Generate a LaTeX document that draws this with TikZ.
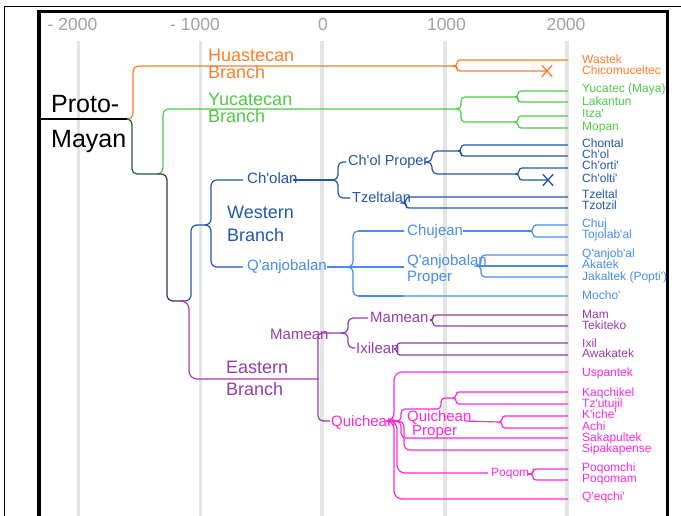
\documentclass[tikz,border=0pt]{standalone}
\usepackage{fontspec}
\usetikzlibrary{shapes.misc}
\newfontfamily\lab{Liberation Sans}
\definecolor{cOr}{RGB}{255,125,40}
\definecolor{cGr}{RGB}{80,200,70}
\definecolor{cDg}{RGB}{30,95,50}
\definecolor{cDp}{RGB}{70,40,110}
\definecolor{cWb}{RGB}{35,85,170}
\definecolor{cLb}{RGB}{70,140,240}
\definecolor{cPu}{RGB}{150,60,170}
\definecolor{cEp}{RGB}{175,50,180}
\definecolor{cMg}{RGB}{255,40,215}
\definecolor{cAx}{RGB}{160,160,160}
\definecolor{cGrid}{RGB}{228,228,228}
\begin{document}
\begin{tikzpicture}[x=1pt,y=-1pt,
  lnk/.style={line width=1.2pt, rounded corners=#1}, lnk/.default=5,
  elbow/.style={to path={-- ++(#1,0) |- (\tikztotarget)}}, elbow/.default=3,
  leafl/.style={anchor=base west, inner sep=0pt, font=\lab\fontsize{12}{12}\selectfont},
  midl/.style={anchor=base west, inner sep=0pt, font=\lab\fontsize{15}{15}\selectfont},
  brl/.style={anchor=base west, inner sep=0pt, align=left, font=\lab\fontsize{18}{#1}\selectfont},
  axl/.style={anchor=base, inner sep=0pt, text=cAx, font=\lab\fontsize{17.5}{17.5}\selectfont},
  gridln/.style={draw=cGrid, line width=3.3pt},
  xmark/.style={cross out, draw, line width=1.3pt, minimum width=9pt, minimum height=10pt, inner sep=0pt},
]
\useasboundingbox (0,0) rectangle (681,516);
% frame
\draw[line width=1pt] (4,516) -- (4,7) -- (681,7);
% grid
\foreach \gx in {78.5,200.5,322,445,567} \draw[gridln] (\gx,41) -- (\gx,516);
\draw[line width=3.2pt] (39,516) -- (39,11.3) -- (667.5,11.3) -- (667.5,516);
% axis
\node[axl] (ax1) at (72.5,31) {- 2000};
\node[axl] (ax2) at (195,31) {- 1000};
\node[axl] (ax3) at (323,31) {0};
\node[axl] (ax4) at (446.5,31) {1000};
\node[axl] (ax5) at (566,31) {2000};

% root
\node[anchor=base west, inner sep=0pt, align=left, font=\lab\fontsize{25}{35}\selectfont] (proto) at (51,148) {Proto-\\Mayan};
\coordinate (L0) at (40,119);
\coordinate (R) at (127,119);
\draw[line width=1.1pt] (L0) -- (R);

% main splits
\coordinate (A) at (157,174);
\coordinate (B) at (183,301);
\coordinate (Hs) at (452,66);
\coordinate (Ys) at (456,109);
\coordinate (W) at (205,225);
\coordinate (E) at (318,379);
\draw[lnk=6,cOr] (R) to[elbow=6] (Hs);
\draw[lnk=5,cDg] (R) to[elbow=5] (A);
\draw[lnk=6,cGr] (A) to[elbow=6] (Ys);
\draw[lnk=6,cDp] (A) to[elbow=10] (B);
\draw[lnk=6,cWb] (B) to[elbow=8] (W);
\draw[lnk=8,cEp] (B) to[elbow=6] (E);

% branch labels
\node[brl=17, text=cOr] (hua) at (208,79) {Huastecan\\Branch};
\node[brl=17, text=cGr] (yuc) at (208,123) {Yucatecan\\Branch};
\node[brl=23, text=cWb] (wes) at (227,242) {Western\\Branch};
\node[brl=22, text=cPu] (eas) at (226,395) {Eastern\\Branch};

% Huastecan
\coordinate (wE) at (568,60);
\node[xmark, cOr] (xch) at (547,71) {};
\draw[lnk=3,cOr] (Hs) to[elbow=5] (wE);
\draw[lnk=3,cOr] (Hs) to[elbow=5] (xch.center);
\node[leafl, text=cOr] (wastek) at (582,64) {Wastek};
\node[leafl, text=cOr] (chico) at (582,75) {Chicomuceltec};

% Yucatecan
\coordinate (Yu) at (515,97);
\coordinate (Yl) at (515,122);
\coordinate (yucE) at (568,91);
\coordinate (lakE) at (568,102);
\coordinate (itzE) at (568,116);
\coordinate (mopE) at (568,128);
\draw[lnk=4,cGr] (Ys) to[elbow=5] (Yu);
\draw[lnk=4,cGr] (Ys) to[elbow=5] (Yl);
\draw[lnk=3,cGr] (Yu) to[elbow=3] (yucE);
\draw[lnk=3,cGr] (Yu) to[elbow=3] (lakE);
\draw[lnk=3,cGr] (Yl) to[elbow=3] (itzE);
\draw[lnk=3,cGr] (Yl) to[elbow=3] (mopE);
\node[leafl, text=cGr] (yucl) at (582,93) {Yucatec (Maya)};
\node[leafl, text=cGr] (lakl) at (582,106) {Lakantun};
\node[leafl, text=cGr] (itzl) at (582,118) {Itza'};
\node[leafl, text=cGr] (mopl) at (582,131) {Mopan};

% Western: Ch'olan
\coordinate (cholIn) at (243,180);
\coordinate (cholOut) at (293,180);
\coordinate (CO) at (335,180);
\coordinate (cpIn) at (346,162);
\coordinate (tzIn) at (350,198);
\coordinate (CP) at (429,162);
\coordinate (CPa) at (458,151);
\coordinate (CPb) at (515,174);
\coordinate (TZ) at (404,203);
\coordinate (chonE) at (568,145);
\coordinate (cholE) at (568,156);
\coordinate (chorE) at (568,168);
\coordinate (tzeE) at (568,197);
\coordinate (tzoE) at (568,208);
\node[xmark, cWb] (xct) at (548,180) {};
\draw[lnk=6,cWb] (W) to[elbow=6] (cholIn);
\node[midl, text=cWb] (cholan) at (247,184) {Ch'olan};
\draw[lnk,cWb] (cholOut) -- (CO);
\draw[lnk=5,cWb] (CO) to[elbow=3] (cpIn);
\draw[lnk=5,cWb] (CO) to[elbow=3] (tzIn);
\node[midl, text=cWb, font=\lab\fontsize{14.5}{14.5}\selectfont] (cholp) at (348,166) {Ch'ol Proper};
\node[midl, text=cWb, font=\lab\fontsize{14.5}{14.5}\selectfont] (tzelt) at (352,203) {Tzeltalan};
\draw[lnk=5,cWb] (CP) to[elbow=3] (CPa);
\draw[lnk=5,cWb] (CP) to[elbow=3] (CPb);
\draw[lnk=3,cWb] (CPa) to[elbow=3] (chonE);
\draw[lnk=3,cWb] (CPa) to[elbow=3] (cholE);
\draw[lnk=3,cWb] (CPb) to[elbow=4] (chorE);
\draw[lnk=3,cWb] (CPb) to[elbow=4] (xct.center);
\draw[lnk=3,cWb] (TZ) to[elbow=2] (tzeE);
\draw[lnk=3,cWb] (TZ) to[elbow=2] (tzoE);
\node[leafl, text=cWb] (chonl) at (582,148) {Chontal};
\node[leafl, text=cWb] (choll) at (582,159) {Ch'ol};
\node[leafl, text=cWb] (chorl) at (582,170) {Ch'orti'};
\node[leafl, text=cWb] (choltl) at (582,183) {Ch'olti'};
\node[leafl, text=cWb] (tzel) at (582,199) {Tzeltal};
\node[leafl, text=cWb] (tzol) at (582,210) {Tzotzil};

% Western: Q'anjobalan
\coordinate (qanIn) at (243,267);
\coordinate (qanOut) at (327,267);
\coordinate (QS) at (350,267);
\coordinate (chjIn) at (404,231);
\coordinate (chjOut) at (463,231);
\coordinate (qpIn) at (404,267);
\coordinate (CH) at (530,231);
\coordinate (QPs) at (478,266);
\coordinate (chujE) at (568,225);
\coordinate (tojE) at (568,237);
\coordinate (qajE) at (568,255);
\coordinate (akaE) at (568,266);
\coordinate (jakE) at (568,277);
\coordinate (mocE) at (568,296);
\draw[lnk=6,cWb] (W) to[elbow=6] (qanIn);
\node[midl, text=cLb] (qanj) at (247,270) {Q'anjobalan};
\draw[lnk,cLb] (qanOut) -- (QS);
\draw[lnk=5,cLb] (QS) to[elbow=3] (chjIn);
\draw[lnk=5,cLb] (QS) to[elbow=3] (mocE);
\draw[cLb, line width=2.4pt] (QS) -- (qpIn);
\draw[cLb, line width=2.4pt] (chjIn) -- ++(-46,0);
\draw[cLb, line width=2.4pt] (qpIn) ++(0,29) -- ++(-46,0);
\node[midl, text=cLb] (chuj) at (407,236) {Chujean};
\node[midl, text=cLb, align=left, font=\lab\fontsize{15}{16}\selectfont] (qanp) at (407,281) {Q'anjobalan\\Proper};
\draw[lnk,cLb] (chjOut) -- (CH);
\draw[lnk=3,cLb] (CH) to[elbow=3] (chujE);
\draw[lnk=3,cLb] (CH) to[elbow=3] (tojE);
\draw[lnk=4,cLb] (QPs) to[elbow=3] (qajE);
\draw[lnk=4,cLb] (QPs) -- (akaE);
\draw[lnk=4,cLb] (QPs) to[elbow=3] (jakE);
\node[leafl, text=cLb] (chujl) at (582,228) {Chuj};
\node[leafl, text=cLb] (tojl) at (582,239) {Tojolab'al};
\node[leafl, text=cLb] (qajl) at (582,258) {Q'anjob'al};
\node[leafl, text=cLb] (akal) at (582,269) {Akatek};
\node[leafl, text=cLb] (jakl) at (582,280) {Jakaltek (Popti')};
\node[leafl, text=cLb] (mocl) at (582,299) {Mocho'};

% Eastern: Mamean
\coordinate (MS) at (345,333);
\coordinate (mmIn) at (368,318);
\coordinate (ixIn) at (355,348);
\coordinate (MM) at (430,320);
\coordinate (IX) at (394,349);
\coordinate (mamE) at (568,315);
\coordinate (tekE) at (568,326);
\coordinate (ixE) at (568,343);
\coordinate (awaE) at (568,355);
\draw[lnk=4,cPu] (E) |- (MS);
\node[midl, text=cPu] (mam1) at (270,339) {Mamean};
\draw[lnk=5,cPu] (MS) to[elbow=3] (mmIn);
\draw[lnk=5,cPu] (MS) to[elbow=3] (ixIn);
\node[midl, text=cPu] (mam2) at (370,323) {Mamean};
\node[midl, text=cPu] (ixi) at (356,353) {Ixilean};
\draw[lnk=3,cPu] (MM) to[elbow=3] (mamE);
\draw[lnk=3,cPu] (MM) to[elbow=3] (tekE);
\draw[lnk=3,cPu] (IX) to[elbow=3] (ixE);
\draw[lnk=3,cPu] (IX) to[elbow=3] (awaE);
\node[leafl, text=cPu] (maml) at (582,318) {Mam};
\node[leafl, text=cPu] (tekl) at (582,329) {Tekiteko};
\node[leafl, text=cPu] (ixl) at (582,347) {Ixil};
\node[leafl, text=cPu] (awal) at (582,357) {Awakatek};

% Eastern: Quichean
\coordinate (qcIn) at (330,421);
\coordinate (QC) at (393,421);
\coordinate (QPR) at (398,421);
\coordinate (KG) at (437,409);
\coordinate (KT) at (453,398);
\coordinate (kaIn) at (465,421);
\coordinate (KA) at (499,422);
\coordinate (poIn) at (488,473);
\coordinate (poOut) at (527,474);
\coordinate (PQ) at (530,474);
\coordinate (uspE) at (568,372);
\coordinate (kaqE) at (568,392);
\coordinate (tzuE) at (568,404);
\coordinate (kicE) at (568,416);
\coordinate (achE) at (568,428);
\coordinate (sakE) at (568,438);
\coordinate (sipE) at (568,450);
\coordinate (pqcE) at (568,469);
\coordinate (pqmE) at (568,480);
\coordinate (qeqE) at (568,499);
\draw[lnk=5,cPu] (E) |- (qcIn);
\node[midl, text=cMg] (quic) at (331,426) {Quichean};
\draw[lnk=8,cMg] (QC) to[elbow=1] (uspE);
\draw[lnk=8,cMg] (QC) to[elbow=1] (qeqE);
\draw[lnk=8,cMg] (QC) to[elbow=4] (poIn);
\draw[lnk,cMg] (QC) -- (QPR);
\draw[lnk=4,cMg] (QPR) to[elbow=3] (KG);
\draw[lnk=4,cMg] (KG) to[elbow=4] (KT);
\draw[lnk,cMg] (kaIn) -- (KA);
\draw[lnk=5,cMg] (QPR) to[elbow=3] (sakE);
\draw[lnk=6,cMg] (QPR) to[elbow=6] (sipE);
\node[midl, text=cMg, align=left, font=\lab\fontsize{15}{13.5}\selectfont] (quicp) at (407,435) {Quichean\\\hspace*{5pt}Proper};
\draw[lnk=3,cMg] (KT) to[elbow=3] (kaqE);
\draw[lnk=3,cMg] (KT) to[elbow=3] (tzuE);
\draw[lnk=3,cMg] (KA) to[elbow=3] (kicE);
\draw[lnk=3,cMg] (KA) to[elbow=3] (achE);
\node[leafl, text=cMg, font=\lab\fontsize{12}{12}\selectfont] (poqom) at (491,476) {Poqom};
\draw[lnk,cMg] (poOut) -- (PQ);
\draw[lnk=3,cMg] (PQ) to[elbow=3] (pqcE);
\draw[lnk=3,cMg] (PQ) to[elbow=3] (pqmE);
\node[leafl, text=cMg] (uspl) at (582,376) {Uspantek};
\node[leafl, text=cMg] (kaql) at (582,396) {Kaqchikel};
\node[leafl, text=cMg] (tzul) at (582,407) {Tz'utujil};
\node[leafl, text=cMg] (kicl) at (582,418) {K'iche'};
\node[leafl, text=cMg] (achl) at (582,430) {Achi};
\node[leafl, text=cMg] (sakl) at (582,441) {Sakapultek};
\node[leafl, text=cMg] (sipl) at (582,452) {Sipakapense};
\node[leafl, text=cMg] (pqcl) at (582,471) {Poqomchi};
\node[leafl, text=cMg] (pqml) at (582,482) {Poqomam};
\node[leafl, text=cMg] (qeql) at (582,500) {Q'eqchi'};
\end{tikzpicture}
\end{document}
